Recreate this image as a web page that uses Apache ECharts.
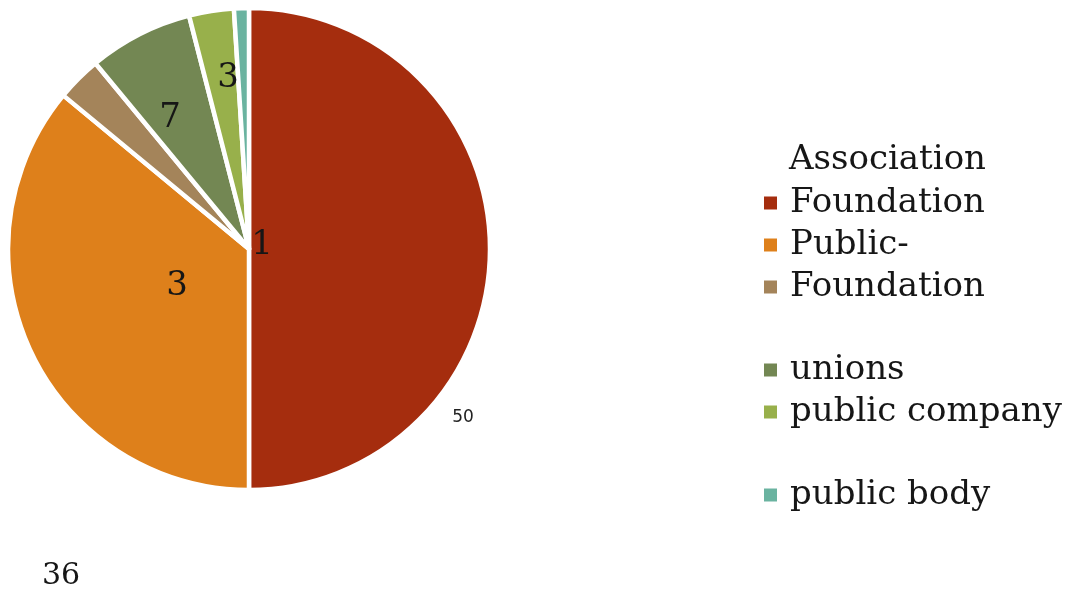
<!DOCTYPE html>
<html>
<head>
<meta charset="utf-8">
<script src="https://cdn.jsdelivr.net/npm/echarts@6/dist/echarts.min.js"></script>
<style>
  html, body { margin: 0; padding: 0; background: #ffffff; }
  #chart { width: 1070px; height: 593px; }
</style>
</head>
<body>
<div id="chart"></div>
<script>
// ---- data ----
const categories = ['Association Foundation', 'Public-', 'Foundation', 'unions', 'public company', 'public body'];
const legendLabels = ['Foundation', 'Public-', 'Foundation', 'unions', 'public company', 'public body'];
const values = [50, 36, 3, 7, 3, 1];
const colors = ['#A52D0E', '#DE801B', '#A4845A', '#738753', '#98B04B', '#6AB3A0'];
const legendHeading = 'Association';

// ---- layout (label anchor points, px) ----
const labelAnchors = [[463, 418], [61, 576], [177, 286], [170, 118], [228, 78], [262, 245]];

const serif = '"DejaVu Serif", serif';

const chart = echarts.init(document.getElementById('chart'), null, { renderer: 'canvas' });

const legendText = { fontFamily: serif, fontSize: 34, color: '#161616', lineHeight: 42, padding: [0, 0, 0, 7] };
function legendFmt(name) { return legendLabels[categories.indexOf(name)]; }
function mkLegend(idx, top) {
  return {
    orient: 'vertical', left: 762, top: top, padding: 0, itemGap: 0,
    itemWidth: 15, itemHeight: 15, icon: 'rect',
    selectedMode: false,
    data: idx.map(i => categories[i]),
    formatter: legendFmt,
    textStyle: legendText
  };
}

chart.setOption({
  animation: false,
  backgroundColor: '#ffffff',
  title: {
    text: legendHeading, left: 789, top: 139, padding: 0,
    textStyle: { fontFamily: serif, fontSize: 34, fontWeight: 'normal', color: '#161616', lineHeight: 42 }
  },
  legend: [mkLegend([0, 1, 2], 182), mkLegend([3, 4], 349), mkLegend([5], 474)],
  series: [{
    type: 'pie',
    center: [249, 249],
    radius: 241,
    startAngle: 90,
    clockwise: true,
    avoidLabelOverlap: false,
    itemStyle: { borderColor: '#ffffff', borderWidth: 4.5 },
    label: {
      show: true, position: 'inside', formatter: '{c}',
      fontFamily: serif, fontSize: 34, color: '#161616'
    },
    labelLine: { show: false },
    emphasis: { disabled: true },
    labelLayout: function (p) {
      const a = labelAnchors[p.dataIndex];
      return { x: a[0], y: a[1], align: 'center', verticalAlign: 'middle' };
    },
    data: categories.map((c, i) => {
      const d = { name: c, value: values[i], itemStyle: { color: colors[i] } };
      if (i === 0) d.label = { fontFamily: '"DejaVu Sans", sans-serif', fontSize: 17, color: '#222' };
      if (i === 1) d.label = { fontSize: 30 };
      return d;
    })
  }]
});
</script>
</body>
</html>
